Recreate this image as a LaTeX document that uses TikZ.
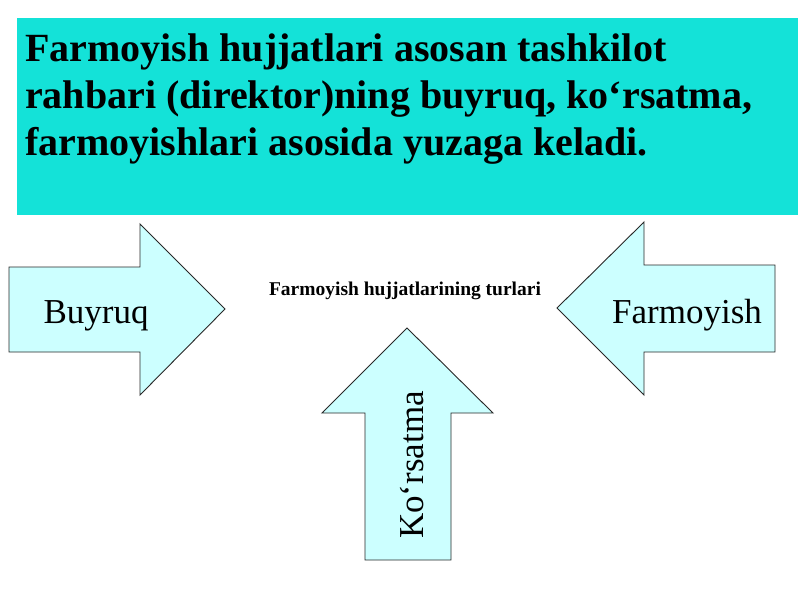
\documentclass[tikz,border=0pt]{standalone}
\usepackage{fontspec}
\setmainfont{Liberation Serif}
\definecolor{topbox}{RGB}{20,226,216}
\definecolor{arrowfill}{RGB}{204,255,255}
\definecolor{arrowline}{RGB}{40,40,40}
\begin{document}
\begin{tikzpicture}[x=1pt,y=-1pt,
  bigarrow/.style={fill=arrowfill,draw=arrowline,line width=0.9pt,line join=miter},
  armlabel/.style={font=\fontsize{35}{40}\selectfont,inner sep=0pt},
  heading/.style={font=\fontsize{40}{47}\selectfont\bfseries,inner sep=0pt,align=left}]
\useasboundingbox (0,0) rectangle (800,600);
\fill[white] (0,0) rectangle (800,600);
% top box
\fill[topbox] (17,18) rectangle (798,215);
\node[heading,anchor=base west] (head) at (25,155) {Farmoyish hujjatlari asosan tashkilot\\rahbari (direktor)ning buyruq, ko‘rsatma,\\farmoyishlari asosida yuzaga keladi.};
% left arrow
\draw[bigarrow] (9,267) -- (140,267) -- (140,224) -- (225,309) -- (140,395) -- (140,352) -- (9,352) -- cycle;
% right arrow
\draw[bigarrow] (775,265) -- (644,265) -- (644,222) -- (557,308) -- (644,395) -- (644,352) -- (775,352) -- cycle;
% up arrow
\draw[bigarrow] (365,560) -- (365,413) -- (322,413) -- (407,328) -- (493,413) -- (451,413) -- (451,560) -- cycle;
\node[armlabel,anchor=base] (buyruq) at (96,323) {Buyruq};
\node[armlabel,anchor=base] (farmoyish) at (687,323) {Farmoyish};
\node[armlabel,anchor=base,rotate=90] (korsatma) at (423,465) {Ko‘rsatma};
\node[font=\fontsize{19.5}{22}\selectfont\bfseries,anchor=base,inner sep=0pt] (title) at (405,295) {Farmoyish hujjatlarining turlari};
\end{tikzpicture}
\end{document}
